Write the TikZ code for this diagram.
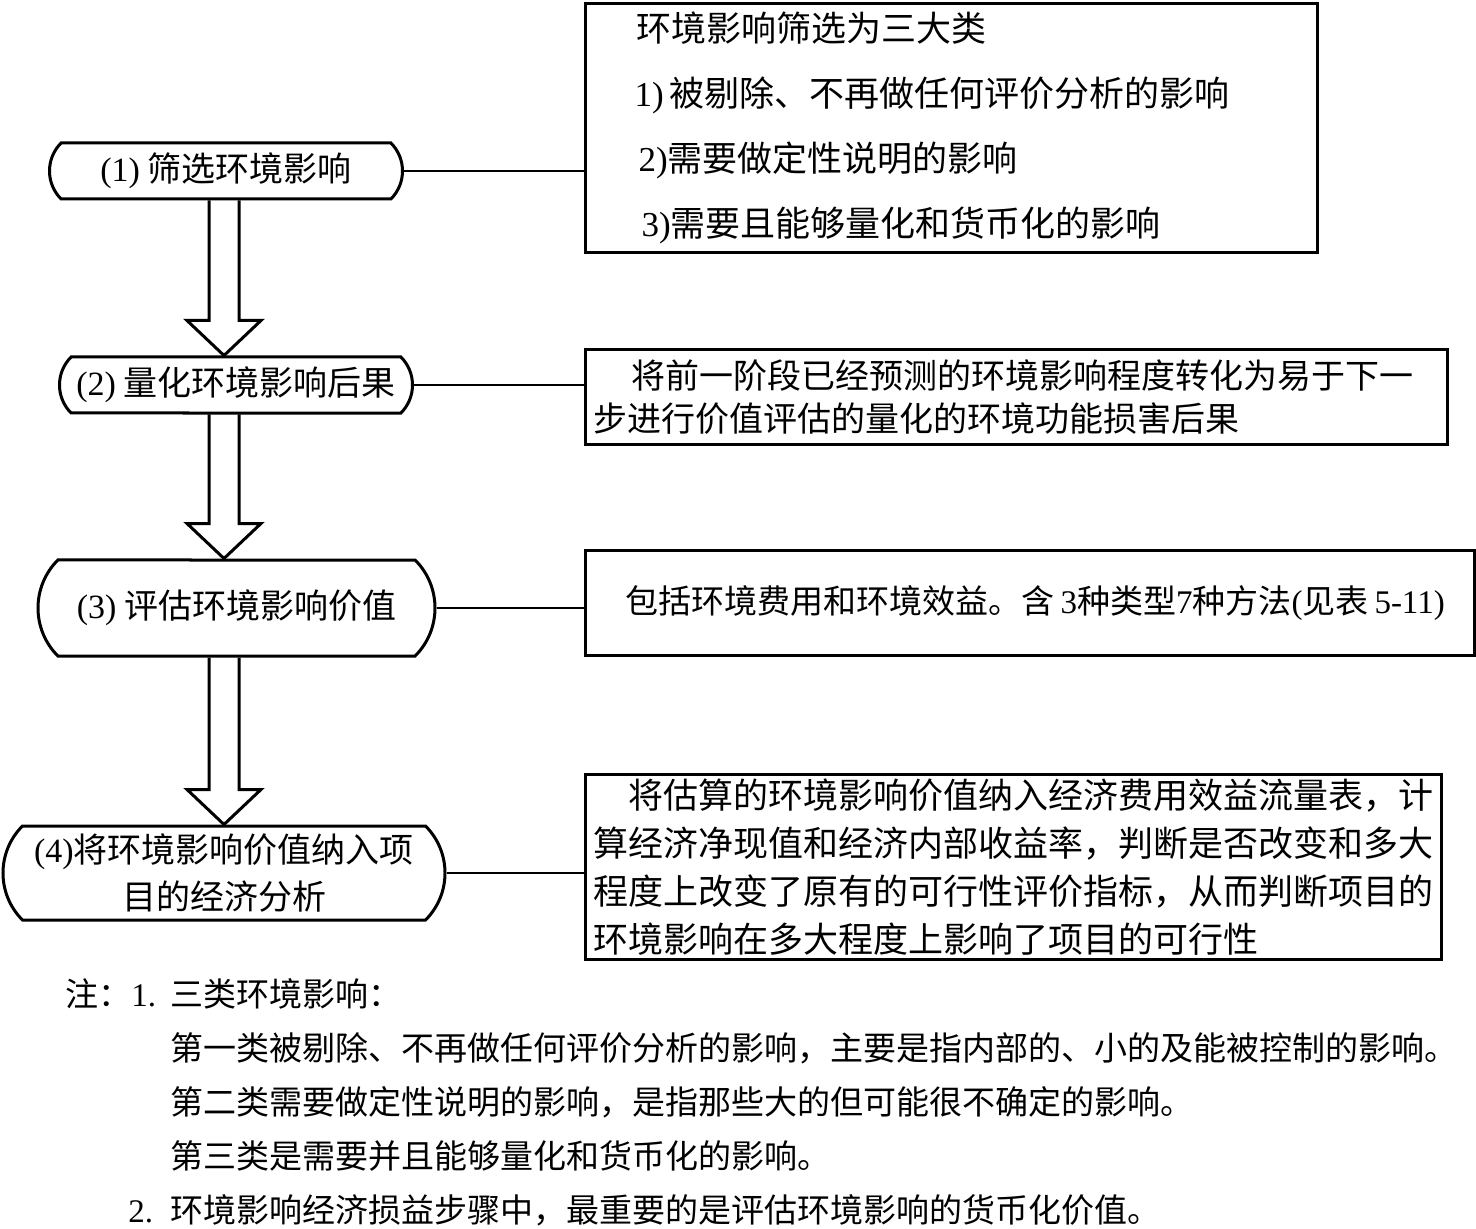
\documentclass[tikz,border=0pt]{standalone}
\usepackage{fontspec}
\setmainfont{Noto Sans CJK SC}
\newfontfamily\latinfont{Liberation Serif}
\newcommand{\rmnum}[1]{{\latinfont #1}}
\usetikzlibrary{shapes.misc, calc, positioning}

\begin{document}
\begin{tikzpicture}[
            x = 0.5pt,
            y = 0.5pt,
            line join = miter,
            font = \fontsize{17}{21}\selectfont
        ]

        \tikzstyle{stage}=[
            draw = black,
            line width = 1.5pt,
            rounded rectangle,
            rounded rectangle arc length = 90,
            inner sep = 0pt,
            align = center
        ]
        \tikzstyle{notebox}=[
            draw = black,
            line width = 1.5pt,
            anchor = north west,
            inner xsep = 4pt,
            inner ysep = 0pt,
            align = left
        ]
        \tikzstyle{link}=[line width = 1pt]
        \tikzstyle{hollow}=[draw, line width = 1.5pt]

        \useasboundingbox (0,0) rectangle (1476,1228);

        % steps on the left
        \node[stage, minimum width=176.5pt, minimum height=28pt] (s1) at (226,1057) {\rmnum{(1)} 筛选环境影响};
        \node[stage, minimum width=176.5pt, minimum height=28pt] (s2) at (236,843) {\rmnum{(2)} 量化环境影响后果};
        \node[stage, minimum width=198.5pt, minimum height=48pt] (s3) at (236.5,620) {\rmnum{(3)} 评估环境影响价值};
        \node[stage, minimum width=221pt, minimum height=47pt, font=\fontsize{17}{23.5}\selectfont] (s4) at (224,355) {\rmnum{(4)}将环境影响价值纳入项\\目的经济分析};

        % explanation boxes
        \node[notebox, minimum width=366pt, minimum height=124.5pt, text width=358pt, font=\fontsize{17.5}{32.5}\selectfont] (b1) at (584,1226) {%
            \hspace*{21.5pt}环境影响筛选为三大类\\
            \hspace*{20.5pt}\rmnum{1)}\hspace{3pt}被剔除、不再做任何评价分析的影响\\
            \hspace*{22.5pt}\rmnum{2)}需要做定性说明的影响\\
            \hspace*{24pt}\rmnum{3)}需要且能够量化和货币化的影响};
        \node[notebox, minimum width=431pt, minimum height=47.5pt, text width=423pt, font=\fontsize{17}{21.5}\selectfont] (b2) at (584,880) {%
            \hspace*{19pt}将前一阶段已经预测的环境影响程度转化为易于下一\\
            步进行价值评估的量化的环境功能损害后果};
        \node[notebox, minimum width=444.5pt, minimum height=52.5pt, text width=436.5pt, font=\fontsize{16.5}{21}\selectfont] (b3) at (584,679) {%
            \hspace*{16pt}\mbox{包括环境费用和环境效益。含\hspace{3pt}\rmnum{3}种类型\rmnum{7}种方法\rmnum{(}见表\hspace{3pt}\rmnum{5-11)}}};
        \node[notebox, minimum width=428pt, minimum height=92.5pt, text width=420pt, font=\fontsize{17.5}{24}\selectfont] (b4) at (584,455) {%
            \hspace*{17.5pt}将估算的环境影响价值纳入经济费用效益流量表，计\\
            算经济净现值和经济内部收益率，判断是否改变和多大\\
            程度上改变了原有的可行性评价指标，从而判断项目的\\
            环境影响在多大程度上影响了项目的可行性};

        % notes
        \node[anchor=north west, inner sep=0pt, align=left, font=\fontsize{16.5}{27}\selectfont] (nt) at (65,250) {%
            \makebox[52.5pt][l]{注：\rmnum{1.}}三类环境影响：\\
            \hspace*{52.5pt}第一类被剔除、不再做任何评价分析的影响，主要是指内部的、小的及能被控制的影响。\\
            \hspace*{52.5pt}第二类需要做定性说明的影响，是指那些大的但可能很不确定的影响。\\
            \hspace*{52.5pt}第三类是需要并且能够量化和货币化的影响。\\
            \hspace*{31.5pt}\makebox[21pt][l]{\rmnum{2.}}环境影响经济损益步骤中，最重要的是评估环境影响的货币化价值。};

        \draw[link] (s1.east) -- (s1.east -| b1.west);
        \draw[link] (s2.east) -- (s2.east -| b2.west);
        \draw[link] (s3.east) -- (s3.east -| b3.west);
        \draw[link] (s4.east) -- (s4.east -| b4.west);

        % hollow arrows between the steps
        \coordinate (ax) at (224,0);
        \foreach \a/\b in {s1/s2, s2/s3, s3/s4}
            \draw[hollow] ($(ax |- \a.south)+(-15,0)$) -- ($(ax |- \b.north)+(-15,35)$) -- ($(ax |- \b.north)+(-37,35)$) -- (ax |- \b.north) -- ($(ax |- \b.north)+(37,35)$) -- ($(ax |- \b.north)+(15,35)$) -- ($(ax |- \a.south)+(15,0)$);

    \end{tikzpicture}
\end{document}
